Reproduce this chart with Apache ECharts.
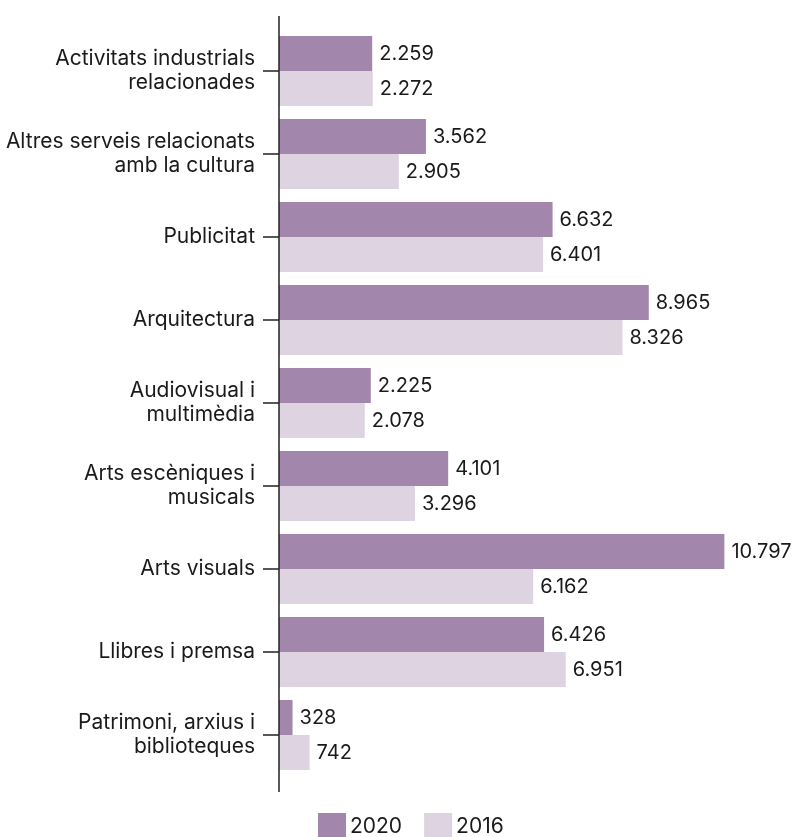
<!DOCTYPE html>
<html>
<head>
<meta charset="utf-8">
<script src="https://cdn.jsdelivr.net/npm/echarts@6/dist/echarts.min.js"></script>
<style>
  html, body { margin: 0; padding: 0; background: #fff; }
  #chart { width: 795px; height: 837px; }
</style>
</head>
<body>
<div id="chart"></div>
<script>
const categories = [
  "Activitats industrials\nrelacionades",
  "Altres serveis relacionats\namb la cultura",
  "Publicitat",
  "Arquitectura",
  "Audiovisual i\nmultimèdia",
  "Arts escèniques i\nmusicals",
  "Arts visuals",
  "Llibres i premsa",
  "Patrimoni, arxius i\nbiblioteques"
];
const values2020 = [2259, 3562, 6632, 8965, 2225, 4101, 10797, 6426, 328];
const values2016 = [2272, 2905, 6401, 8326, 2078, 3296, 6162, 6951, 742];

const fmt = (v) => v.toLocaleString("de-DE");
const FONT = "Inter";

const chart = echarts.init(document.getElementById("chart"));

const labelStyle = {
  show: true,
  position: "right",
  distance: 7,
  color: "#1a1a1a",
  fontFamily: FONT,
  fontSize: 20,
  formatter: (p) => fmt(p.value)
};

chart.setOption({
  animation: false,
  backgroundColor: "#fff",
  grid: { left: 279, right: 21, top: 29.5, bottom: 60.5, containLabel: false },
  legend: {
    left: 318,
    top: 813,
    padding: 0,
    itemWidth: 28,
    itemHeight: 28,
    itemGap: 22,
    icon: "rect",
    textStyle: { fontFamily: FONT, fontSize: 21, color: "#1a1a1a", padding: [2, 0, 0, -1] },
    data: ["2020", "2016"]
  },
  xAxis: {
    type: "value",
    min: 0,
    max: 12000,
    show: false
  },
  yAxis: {
    type: "category",
    inverse: true,
    data: categories,
    axisLine: { show: false },
    axisTick: { show: true, alignWithLabel: true, length: 16, lineStyle: { color: "#222", width: 1.5 } },
    axisLabel: {
      margin: 24,
      color: "#1a1a1a",
      fontFamily: FONT,
      fontSize: 21,
      lineHeight: 24,
      align: "right"
    },
    splitLine: { show: false }
  },
  graphic: [
    {
      type: "line",
      shape: { x1: 279, y1: 16, x2: 279, y2: 792 },
      style: { stroke: "#222", lineWidth: 1.5 },
      z: 10
    }
  ],
  series: [
    {
      name: "2020",
      type: "bar",
      data: values2020,
      barWidth: 35,
      barGap: "0%",
      itemStyle: { color: "#a386ab" },
      label: labelStyle
    },
    {
      name: "2016",
      type: "bar",
      data: values2016,
      barWidth: 35,
      itemStyle: { color: "#ddd3e1" },
      label: labelStyle
    }
  ]
});
</script>
</body>
</html>
